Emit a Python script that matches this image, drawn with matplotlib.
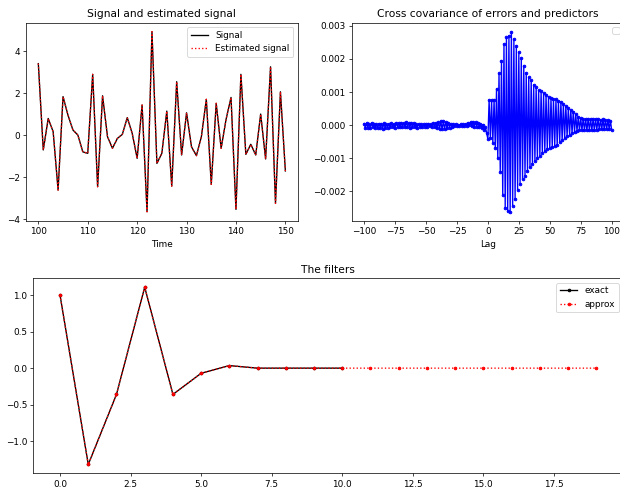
import numpy as np
import matplotlib
matplotlib.use("Agg")
import matplotlib.pyplot as plt

# ---- Data: signal and estimated signal (time 100..150) ----
time = list(range(100, 151))
signal = [3.40, -0.71, 0.79, 0.16, -2.62, 1.83, 0.95, 0.24, 0.00, -0.80,
          -0.87, 2.89, -2.46, 1.87, -0.08, -0.63, -0.16, 0.03, 0.83, 0.08,
          -1.11, 1.43, -3.65, 4.92, -1.35, -0.87, 1.14, -2.43, 2.54, -0.95,
          1.06, -0.56, -0.98, -0.08, 1.70, -2.35, 1.51, -0.63, 0.75, 1.79,
          -3.54, 2.89, -0.92, -0.44, -0.95, 1.00, -1.14, 3.25, -3.25, 2.06,
          -1.71]
estimated = [3.40, -0.71, 0.79, 0.16, -2.62, 1.83, 0.95, 0.24, 0.00, -0.80,
             -0.87, 2.89, -2.46, 1.87, -0.08, -0.63, -0.16, 0.03, 0.83, 0.08,
             -1.11, 1.43, -3.65, 4.92, -1.35, -0.87, 1.14, -2.43, 2.54, -0.95,
             1.06, -0.56, -0.98, -0.08, 1.70, -2.35, 1.51, -0.63, 0.75, 1.79,
             -3.54, 2.89, -0.92, -0.44, -0.95, 1.00, -1.14, 3.25, -3.25, 2.06,
             -1.71]

# ---- Data: cross covariance (lags -100..100), values in units of 1e-4 ----
lags = list(range(-100, 101))
xcov_neg_e4 = [
    0.5, -0.8, 0.6, -0.7, 0.4, -0.9, 0.7, -0.6, 0.5, -0.8,
    0.3, -0.9, 0.5, -0.7, 0.4, -1.0, 0.6, -0.8, 0.3, -0.7,
    0.5, -0.6, 0.6, -0.5, 0.4, -0.7, 0.7, -0.5, 0.6, -0.6,
    0.8, -0.5, 0.7, -0.6, 0.9, -0.4, 0.6, -0.7, 0.8, -0.5,
    0.6, -0.6, 0.5, -0.7, 0.4, -0.5, 0.3, -0.6, 0.4, -0.4,
    0.3, -0.4, 0.5, -0.3, 0.4, -0.5, 0.7, -0.6, 0.8, -0.9,
    1.0, -1.1, 1.2, -1.3, 1.2, -1.1, 1.0, -0.9, 0.8, -0.7,
    0.5, -0.4, 0.4, -0.3, 0.3, -0.3, 0.2, -0.2, 0.3, -0.2,
    0.3, -0.1, 0.5, -0.2, 0.7, 0.0, 0.9, -0.3, 1.0, -0.4,
    0.9, -0.4, 0.8, -0.6, 0.5, -0.9, 0.2, -1.4, -0.6, -2.4,
]
xcov_zero_e4 = [-4.2]
xcov_pos_e4 = [
    7.6, -4.0, 7.6, -5.4, 7.7, -6.9, 11.0, -10.0, 15.6, -14.2,
    19.5, -21.0, 24.5, -24.9, 26.5, -26.0, 27.0, -26.1, 28.2, -24.4,
    26.0, -22.4, 24.0, -19.5, 22.0, -17.8, 20.3, -16.3, 18.0, -15.2,
    15.8, -13.8, 14.4, -12.7, 13.5, -11.6, 12.2, -10.8, 11.6, -10.0,
    10.6, -9.4, 10.2, -8.5, 9.6, -7.9, 9.2, -7.3, 8.6, -7.0,
    8.3, -6.7, 8.0, -6.3, 7.8, -6.0, 7.3, -5.2, 7.0, -4.6,
    6.4, -4.0, 5.8, -3.4, 5.2, -2.9, 4.6, -2.5, 4.1, -2.1,
    3.3, -1.8, 2.6, -1.6, 2.2, -1.5, 2.0, -1.5, 1.9, -1.6,
    1.9, -1.5, 1.9, -1.5, 1.8, -1.4, 1.9, -1.4, 1.8, -1.3,
    1.7, -1.3, 1.8, -1.3, 1.7, -1.2, 1.6, -1.3, 1.4, -1.4,
]
xcov = np.array(xcov_neg_e4 + xcov_zero_e4 + xcov_pos_e4) * 1e-4

# ---- Data: filters ----
exact_idx = list(range(0, 11))
exact_filter = [1.0, -1.32, -0.36, 1.11, -0.36, -0.07, 0.035, 0.0, 0.0, 0.0, 0.0]
approx_idx = list(range(0, 20))
approx_filter = [1.0, -1.32, -0.36, 1.11, -0.36, -0.07, 0.035, 0.0, 0.0, 0.0,
                 0.0, 0.0, 0.0, 0.0, 0.0, 0.0, 0.0, 0.0, 0.0, 0.0]

DPI = 64
fig = plt.figure(figsize=(620 / DPI, 488 / DPI), dpi=DPI)

ax1 = fig.add_axes([0.0419, 0.5477, 0.4383, 0.4058])
ax1.plot(time, signal, 'k', label='Signal')
ax1.plot(time, estimated, 'r:', label='Estimated signal')
ax1.set_title('Signal and estimated signal')
ax1.set_xlabel('Time')
ax1.legend(loc='upper right')

ax2 = fig.add_axes([0.5673, 0.5477, 0.4392, 0.4058])
ax2.plot(lags, xcov, 'b.-')
ax2.set_title('Cross covariance of errors and predictors')
ax2.set_xlabel('Lag')
ax2.legend(loc='upper right')

ax3 = fig.add_axes([0.0536, 0.0301, 0.9513, 0.3996])
ax3.plot(exact_idx, exact_filter, 'k.-', label='exact')
ax3.plot(approx_idx, approx_filter, 'r.:', label='approx')
ax3.set_title('The filters')
ax3.legend(loc='upper right')

fig.savefig('out.png', dpi=DPI)
